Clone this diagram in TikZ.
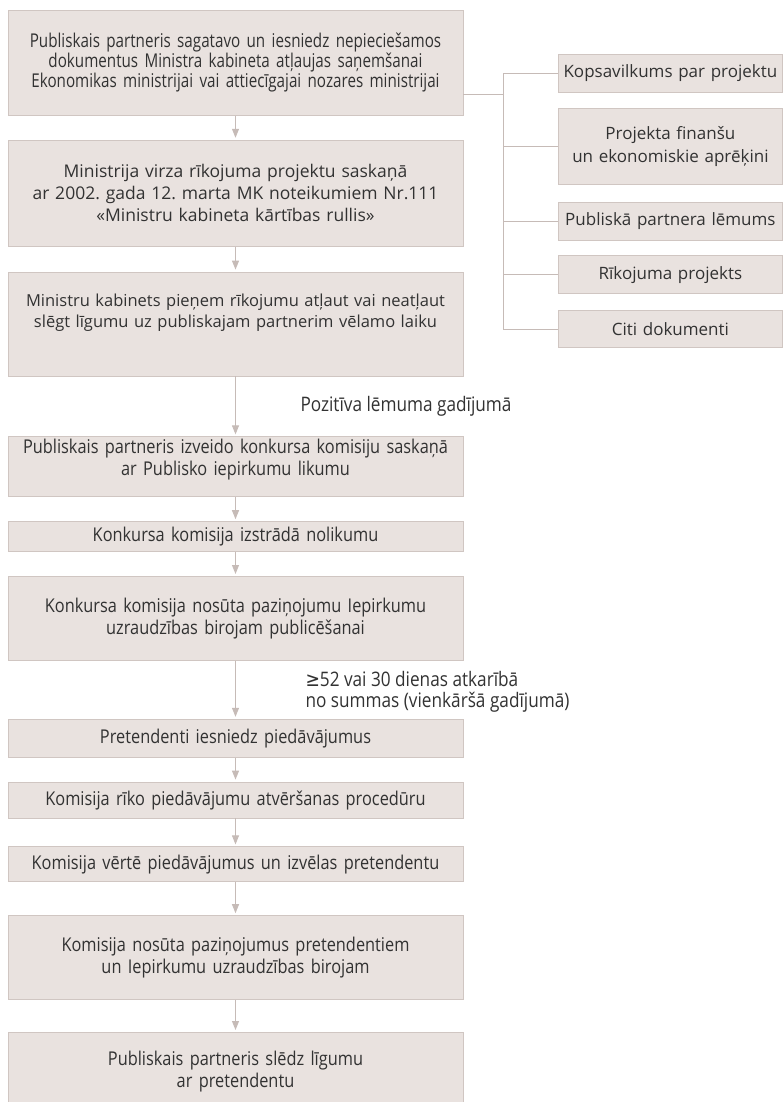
\documentclass[tikz,border=0pt]{standalone}
\usepackage{fontspec}
\setmainfont{Open Sans}
\newfontfamily\condfont[FakeStretch=0.86]{Open Sans}
\newfontfamily\tightfont[FakeStretch=0.8]{Open Sans}
\newfontfamily\symfont[FakeStretch=0.86]{DejaVu Sans}
\usetikzlibrary{arrows.meta,positioning}
\definecolor{boxfill}{RGB}{233,226,223}
\definecolor{boxline}{RGB}{208,198,194}
\definecolor{linkcol}{RGB}{198,187,183}
\definecolor{txt}{RGB}{50,50,50}

\begin{document}
\frenchspacing
\begin{tikzpicture}[x=1pt,y=-1pt,
  every node/.style={inner sep=0pt, text=txt},
  stepbox/.style={draw=boxline, line width=0.8pt, fill=boxfill, minimum width=455pt, text width=450pt, align=center},
  docbox/.style={stepbox, minimum width=224pt, text width=222pt},
  cond/.style={font=\condfont\fontsize{19}{21.5}\selectfont},
  tight/.style={font=\tightfont\fontsize{19}{18.5}\selectfont},
  note/.style={font=\condfont\fontsize{20}{21}\selectfont},
  reg/.style={font=\fontsize{17.5}{22}\selectfont},
  regsm/.style={font=\fontsize{16.5}{21}\selectfont},
  small/.style={font=\fontsize{17}{23}\selectfont},
  flow/.style={draw=linkcol, line width=1pt, -{Triangle[width=7pt,length=9pt]}, shorten >=2pt},
  branch/.style={draw=linkcol, line width=1pt}]

\useasboundingbox (0,0) rectangle (782,1102);

% main steps
\node[stepbox, tight, minimum height=105pt, anchor=north] (b1) at (235.5,10)
  {Publiskais partneris sagatavo un iesniedz nepieciešamos\\ dokumentus Ministra kabineta atļaujas saņemšanai\\ Ekonomikas ministrijai vai attiecīgajai nozares ministrijai};
\node[stepbox, reg, minimum height=106pt, below=24pt of b1] (b2)
  {Ministrija virza rīkojuma projektu saskaņā\\ ar 2002. gada 12. marta MK noteikumiem Nr.111\\ «Ministru kabineta kārtības rullis»};
\node[stepbox, regsm, minimum height=104pt, below=25pt of b2] (b3)
  {Ministru kabinets pieņem rīkojumu atļaut vai neatļaut\\ slēgt līgumu uz publiskajam partnerim vēlamo laiku\\[5pt]\mbox{}};
\node[stepbox, cond, minimum height=60pt, below=60pt of b3] (b4)
  {Publiskais partneris izveido konkursa komisiju saskaņā\\ ar Publisko iepirkumu likumu\\[-2pt]\mbox{}};
\node[stepbox, cond, minimum height=30pt, below=24pt of b4] (b5)
  {Konkursa komisija izstrādā nolikumu};
\node[stepbox, cond, minimum height=84pt, below=24pt of b5] (b6)
  {Konkursa komisija nosūta paziņojumu Iepirkumu\\ uzraudzības birojam publicēšanai};
\node[stepbox, cond, minimum height=38pt, below=58pt of b6] (b7)
  {Pretendenti iesniedz piedāvājumus};
\node[stepbox, cond, minimum height=36pt, below=24pt of b7] (b8)
  {Komisija rīko piedāvājumu atvēršanas procedūru};
\node[stepbox, cond, minimum height=35pt, below=28pt of b8] (b9)
  {Komisija vērtē piedāvājumus un izvēlas pretendentu};
\node[stepbox, cond, minimum height=84pt, below=33pt of b9] (b10)
  {Komisija nosūta paziņojumus pretendentiem\\ un Iepirkumu uzraudzības birojam};
\node[stepbox, cond, minimum height=78pt, below=32pt of b10] (b11)
  {Publiskais partneris slēdz līgumu\\ ar pretendentu};

% documents
\node[docbox, small, minimum height=38pt, anchor=north west] (d1) at (558,54) {Kopsavilkums par projektu};
\node[docbox, small, minimum height=76pt, below=15pt of d1] (d2) {Projekta finanšu\\ un ekonomiskie aprēķini};
\node[docbox, small, minimum height=38pt, below=17pt of d2] (d3) {Publiskā partnera lēmums};
\node[docbox, small, minimum height=38pt, below=15pt of d3] (d4) {Rīkojuma projekts};
\node[docbox, small, minimum height=37pt, below=16pt of d4] (d5) {Citi dokumenti};

\coordinate (split) at (503,95);
\draw[branch] (b1.east |- split) -- (split);
\draw[branch] (split |- d1.west) -- (split |- d5.west);
\foreach \d in {d1,d2,d3,d4,d5}
  \draw[branch] (split |- \d.west) -- (\d.west);

% arrows
\foreach \a/\b in {b1/b2,b2/b3,b4/b5,b5/b6,b7/b8,b8/b9,b9/b10,b10/b11}
  \draw[flow] (\a) -- (\b);
\draw[flow] (b3) -- node[note, anchor=west, xshift=64.5pt] (yes) {Pozitīva lēmuma gadījumā} (b4);
\draw[flow] (b6) -- node[note, anchor=west, align=left, xshift=69.5pt, yshift=-2pt] (days)
  {{\symfont ≥}52 vai 30 dienas atkarībā\\ no summas (vienkāršā gadījumā)} (b7);
\end{tikzpicture}
\end{document}
